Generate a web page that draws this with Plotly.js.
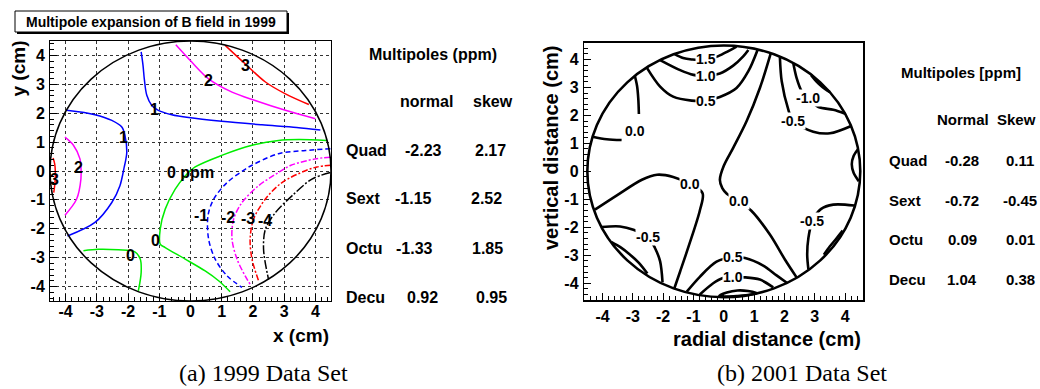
<!DOCTYPE html>
<html>
<head>
<meta charset="utf-8">
<script src="https://cdn.plot.ly/plotly-3.0.1.min.js"></script>
<style>html,body{margin:0;padding:0;background:#fff;}#chart{width:1040px;height:389px;}</style>
</head>
<body>
<div id="chart"></div>
<script>
// ---------------- DATA ----------------
// axis ticks
const tickVals = [-4, -3, -2, -1, 0, 1, 2, 3, 4];
const tickText = ['-4', '-3', '-2', '-1', '0', '1', '2', '3', '4'];
const circleRadius1999 = 4.5;
const circleRadius2001 = 4.5;

// 1999 contour lines (level, x, y)
const c99_p1a_x = [-1.58, -1.52, -1.48, -1.40, -1.24, -1.03, -0.60, -0.06, 1.00, 2.29, 3.40, 4.16];
const c99_p1a_y = [4.12, 3.65, 3.19, 2.62, 2.27, 2.10, 1.95, 1.85, 1.72, 1.60, 1.51, 1.42];
const c99_p1b_x = [-3.97, -3.06, -2.52, -2.20, -2.10, -2.04, -2.08, -2.12, -2.26, -2.52, -3.06, -3.94];
const c99_p1b_y = [2.10, 1.95, 1.75, 1.52, 1.23, 0.66, 0.35, 0.15, -0.51, -1.09, -1.78, -2.25];
const c99_p2a_x = [-0.47, 0.04, 0.58, 1.33, 2.07, 3.04, 4.00];
const c99_p2a_y = [4.37, 3.77, 3.19, 2.73, 2.44, 2.10, 1.81];
const c99_p2b_x = [-4.02, -3.75, -3.54, -3.51, -3.51, -3.65, -4.02];
const c99_p2b_y = [1.17, 0.89, 0.42, 0.18, -0.28, -0.98, -1.53];
const c99_p3a_x = [1.11, 1.75, 2.40, 3.04, 3.79];
const c99_p3a_y = [4.35, 3.71, 3.08, 2.67, 2.30];
const c99_p3b_x = [-4.40, -4.35, -4.33, -4.34, -4.38];
const c99_p3b_y = [0.45, 0.25, 0.00, -0.40, -0.75];
const c99_z0a_x = [4.37, 3.47, 2.82, 1.97, 1.00, 0.15, -0.17, -0.49, -0.81, -0.97, -0.97, -0.81, -0.17, 0.47, 0.90, 1.27];
const c99_z0a_y = [1.06, 1.09, 1.06, 0.89, 0.54, 0.14, -0.17, -0.63, -1.32, -2.01, -2.53, -2.65, -3.05, -3.46, -3.80, -4.18];
const c99_z0b_x = [-3.43, -2.95, -2.31, -1.78, -1.61, -1.58, -1.67];
const c99_z0b_y = [-2.76, -2.71, -2.73, -2.80, -3.05, -3.51, -4.15];
const c99_m1_x = [4.48, 3.68, 2.82, 1.97, 1.75, 1.17, 0.74, 0.56, 0.58, 0.79, 1.17, 1.65];
const c99_m1_y = [0.77, 0.71, 0.60, 0.20, 0.06, -0.40, -0.98, -1.55, -2.36, -3.05, -3.63, -4.03];
const c99_m2_x = [4.48, 4.00, 3.20, 2.82, 2.18, 1.65, 1.38, 1.33, 1.49, 1.75, 1.91];
const c99_m2_y = [0.48, 0.42, 0.19, -0.05, -0.51, -1.09, -1.67, -2.36, -3.05, -3.63, -3.92];
const c99_m3_x = [4.50, 4.05, 3.68, 2.93, 2.40, 2.02, 1.91, 1.97, 2.18];
const c99_m3_y = [0.20, 0.14, 0.01, -0.40, -0.97, -1.67, -2.36, -3.05, -3.80];
const c99_m4_x = [4.48, 3.89, 3.25, 2.72, 2.40, 2.34, 2.50];
const c99_m4_y = [-0.05, -0.28, -0.86, -1.44, -2.01, -2.71, -3.76];

const curves1999 = [
  [1, c99_p1a_x, c99_p1a_y], [1, c99_p1b_x, c99_p1b_y],
  [2, c99_p2a_x, c99_p2a_y], [2, c99_p2b_x, c99_p2b_y],
  [3, c99_p3a_x, c99_p3a_y], [3, c99_p3b_x, c99_p3b_y],
  [0, c99_z0a_x, c99_z0a_y], [0, c99_z0b_x, c99_z0b_y],
  [-1, c99_m1_x, c99_m1_y], [-2, c99_m2_x, c99_m2_y],
  [-3, c99_m3_x, c99_m3_y], [-4, c99_m4_x, c99_m4_y]
];

// 1999 contour labels
const lab99_text = ['1', '1', '2', '3', '2', '3', '0 ppm', '0', '0', '-1', '-2', '-3', '-4'];
const lab99_x = [-1.14, -2.15, 0.58, 1.77, -3.59, -4.36, 0.00, -1.13, -1.91, 0.34, 1.19, 1.85, 2.39];
const lab99_y = [2.14, 1.17, 3.15, 3.65, 0.12, -0.28, -0.05, -2.39, -2.94, -1.55, -1.62, -1.66, -1.73];

// 2001 contour lines
const c01_a_x = [-1.62, -1.34, -1.06, -0.60, -0.18, 0.15, 0.42];
const c01_a_y = [4.19, 4.05, 4.00, 3.98, 4.12, 4.30, 4.46];
const c01_b_x = [-2.10, -1.44, -1.00, -0.60, -0.13, 0.31, 0.64, 0.81];
const c01_b_y = [3.98, 3.62, 3.45, 3.41, 3.50, 3.78, 4.11, 4.34];
const c01_c_x = [-2.54, -2.10, -1.67, -1.06, -0.60, -0.13, 0.42, 0.81, 1.11];
const c01_c_y = [3.71, 3.03, 2.67, 2.53, 2.53, 2.66, 2.98, 3.58, 4.33];
const c01_d_x = [-2.93, -2.86, -2.82, -2.80];
const c01_d_y = [3.40, 3.05, 2.60, 2.05];
const c01_e_x = [-4.33, -3.86, -3.37];
const c01_e_y = [1.24, 1.15, 1.12];
const c01_f_x = [-4.25, -3.50, -2.70, -2.20, -1.67, -1.12, -0.70, -0.79, -1.15, -1.44, -1.63];
const c01_f_y = [-1.37, -0.84, -0.30, -0.12, -0.20, -0.45, -0.78, -1.40, -2.65, -3.58, -4.18];
const c01_g_x = [-4.03, -3.42, -2.98, -2.49, -2.27, -2.10, -2.02];
const c01_g_y = [-1.99, -1.97, -2.09, -2.36, -2.74, -3.22, -3.97];
const c01_h_x = [-3.70, -3.40, -3.09, -2.80, -2.52];
const c01_h_y = [-2.53, -2.72, -2.98, -3.27, -3.65];
const c01_i_x = [-1.22, -0.79, -0.24, 0.29, 0.70, 1.30, 1.74, 2.10];
const c01_i_y = [-4.30, -3.77, -3.23, -3.07, -3.10, -3.37, -3.72, -4.00];
const c01_j_x = [-0.79, -0.35, -0.05, 0.31, 0.70, 1.19, 1.63];
const c01_j_y = [-4.40, -4.00, -3.82, -3.79, -3.79, -3.87, -4.15];
const c01_k_x = [-0.15, 0.10, 0.45, 0.80, 1.10, 0.80, 0.45, 0.10, -0.15];
const c01_k_y = [-4.45, -4.33, -4.26, -4.28, -4.36, -4.42, -4.46, -4.48, -4.45];
const c01_l_x = [1.55, 1.19, 0.75, 0.31, 0.00, -0.13, -0.05, 0.10, 0.50, 0.90, 1.52, 2.02, 2.40];
const c01_l_y = [4.23, 2.98, 1.79, 0.84, 0.20, -0.30, -0.60, -0.80, -1.07, -1.40, -2.26, -3.16, -3.79];
const c01_m_x = [1.85, 1.91, 2.13, 2.29, 2.95, 3.50, 4.20];
const c01_m_y = [4.08, 3.22, 2.20, 1.79, 1.42, 1.36, 1.62];
const c01_n_x = [2.29, 2.40, 2.57, 2.79, 3.12, 3.61, 4.00];
const c01_n_y = [3.87, 3.34, 2.86, 2.61, 2.30, 2.20, 2.06];
const c01_o_x = [2.88, 3.05, 3.25, 3.50];
const c01_o_y = [3.44, 3.22, 3.02, 2.83];
const c01_p_x = [4.43, 4.28, 4.22, 4.28, 4.45];
const c01_p_y = [0.80, 0.55, 0.25, -0.05, -0.35];
const c01_q_x = [4.30, 3.61, 3.20, 2.92, 2.79, 2.75, 2.79];
const c01_q_y = [-1.22, -1.19, -1.35, -1.78, -2.38, -2.98, -3.50];
const c01_r_x = [3.92, 3.70, 3.50, 3.30];
const c01_r_y = [-2.12, -2.42, -2.68, -2.98];

const curves2001 = [
  [c01_a_x, c01_a_y], [c01_b_x, c01_b_y], [c01_c_x, c01_c_y], [c01_d_x, c01_d_y],
  [c01_e_x, c01_e_y], [c01_f_x, c01_f_y], [c01_g_x, c01_g_y], [c01_h_x, c01_h_y],
  [c01_i_x, c01_i_y], [c01_j_x, c01_j_y], [c01_k_x, c01_k_y], [c01_l_x, c01_l_y],
  [c01_m_x, c01_m_y], [c01_n_x, c01_n_y], [c01_o_x, c01_o_y], [c01_p_x, c01_p_y],
  [c01_q_x, c01_q_y], [c01_r_x, c01_r_y]
];

const lab01_text = ['1.5', '1.0', '0.5', '0.0', '0.0', '0.0', '-0.5', '0.5', '1.0', '-1.0', '-0.5', '-0.5'];
const lab01_x = [-0.60, -0.60, -0.60, -2.93, -1.12, 0.50, -2.49, 0.29, 0.31, 2.79, 2.29, 2.92];
const lab01_y = [4.00, 3.41, 2.53, 1.45, -0.45, -1.07, -2.36, -3.07, -3.79, 2.61, 1.79, -1.78];

// multipole tables
const multipoleNames = ['Quad', 'Sext', 'Octu', 'Decu'];
const normal1999 = ['-2.23', '-1.15', '-1.33', '0.92'];
const skew1999 = ['2.17', '2.52', '1.85', '0.95'];
const normal2001 = ['-0.28', '-0.72', '0.09', '1.04'];
const skew2001 = ['0.11', '-0.45', '0.01', '0.38'];

// ---------------- STYLE / LAYOUT ----------------
const W = 1040, H = 389;
const PX = v => v / W, PY = v => 1 - v / H;
const SANS = 'Liberation Sans, Arial, Helvetica, sans-serif';
const bold = (size, color) => ({family: SANS, size: size, weight: 700, color: color || 'black'});

const levelStyle = {
  '3': {color: '#ff0000', dash: 'solid'},
  '2': {color: '#ff00ff', dash: 'solid'},
  '1': {color: '#0000ff', dash: 'solid'},
  '0': {color: '#00ee00', dash: 'solid'},
  '-1': {color: '#0000ff', dash: '5px,3px'},
  '-2': {color: '#ff00ff', dash: '6px,2px,2px,2px'},
  '-3': {color: '#ff0000', dash: '6px,2px,2px,2px'},
  '-4': {color: '#000000', dash: '9px,2px,2px,2px'}
};

const traces = [];
curves1999.forEach(c => {
  const st = levelStyle[String(c[0])];
  traces.push({type: 'scatter', mode: 'lines', x: c[1], y: c[2], xaxis: 'x', yaxis: 'y',
    line: {color: st.color, dash: st.dash, width: 1.5, shape: 'spline', smoothing: 0.9},
    hoverinfo: 'skip', showlegend: false});
});
curves2001.forEach(c => {
  traces.push({type: 'scatter', mode: 'lines', x: c[0], y: c[1], xaxis: 'x2', yaxis: 'y2',
    line: {color: 'black', width: 2.6, shape: 'spline', smoothing: 0.9},
    hoverinfo: 'skip', showlegend: false});
});

function axisBase(domain, range, lw) {
  return {
    domain: domain, range: range, tickvals: tickVals, ticktext: tickText,
    ticks: 'inside', ticklen: 7, tickwidth: 1, tickcolor: 'black',
    showline: true, linecolor: 'black', linewidth: lw, mirror: true,
    zeroline: false, tickfont: bold(16), fixedrange: true,
    minor: {dtick: 0.2, tick0: 0, ticks: 'inside', ticklen: 4, tickcolor: 'black', tickwidth: 1, showgrid: false}
  };
}

const xaxis = Object.assign(axisBase([PX(50), PX(331)], [-4.5, 4.5], 1),
  {anchor: 'y', showgrid: true, gridcolor: '#333', griddash: 'dot', gridwidth: 1, ticklabelstandoff: -4});
const yaxis = Object.assign(axisBase([PY(301), PY(41)], [-4.5, 4.5], 1),
  {anchor: 'x', showgrid: true, gridcolor: '#333', griddash: 'dot', gridwidth: 1, ticklabelstandoff: 1});
const xaxis2 = Object.assign(axisBase([PX(584.3), PX(863.3)], [-4.6, 4.6], 1.5),
  {anchor: 'y2', showgrid: false, ticklabelstandoff: 1});
const yaxis2 = Object.assign(axisBase([PY(300), PY(42.7)], [-4.6, 4.6], 1.5),
  {anchor: 'x2', showgrid: false, ticklabelstandoff: 1});

const shapes = [
  {type: 'circle', xref: 'x', yref: 'y', x0: -circleRadius1999, x1: circleRadius1999,
   y0: -circleRadius1999, y1: circleRadius1999, line: {color: 'black', width: 1.5}, layer: 'above'},
  {type: 'circle', xref: 'x2', yref: 'y2', x0: -circleRadius2001, x1: circleRadius2001,
   y0: -circleRadius2001, y1: circleRadius2001, line: {color: 'black', width: 2.6}, layer: 'above'},
  // title box shadow + box
  {type: 'rect', xref: 'paper', yref: 'paper', x0: PX(17), x1: PX(289), y0: PY(34), y1: PY(13),
   fillcolor: 'black', line: {width: 0}},
  {type: 'rect', xref: 'paper', yref: 'paper', x0: PX(15), x1: PX(287), y0: PY(32), y1: PY(11),
   fillcolor: 'white', line: {color: 'black', width: 1}}
];

const ann = [];
function note(text, x, y, font, extra) {
  ann.push(Object.assign({text: text, x: PX(x), y: PY(y), xref: 'paper', yref: 'paper',
    showarrow: false, font: font, xanchor: 'center', yanchor: 'middle'}, extra || {}));
}
// title
note('Multipole expansion of B field in 1999', 151, 21.5, bold(14));
// axis titles
note('y (cm)', 18, 68.5, bold(19), {textangle: -90});
note('x (cm)', 331, 335, bold(19), {xanchor: 'right'});
note('vertical distance (cm)', 551, 148, bold(20), {textangle: -90});
note('radial distance (cm)', 863, 339, bold(20), {xanchor: 'right'});
// contour labels
lab99_text.forEach((t, i) => ann.push({text: t, x: lab99_x[i], y: lab99_y[i], xref: 'x', yref: 'y',
  showarrow: false, font: bold(16)}));
lab01_text.forEach((t, i) => ann.push({text: t, x: lab01_x[i], y: lab01_y[i], xref: 'x2', yref: 'y2',
  showarrow: false, font: bold(14), bgcolor: 'white', borderpad: 0}));
// table 1999
const rowY1999 = [150, 198, 248, 297];
const normX1999 = [423, 413, 414, 422];
const skewX1999 = [490, 486, 487, 491];
note('Multipoles (ppm)', 432.5, 55, bold(16));
note('normal', 426, 101, bold(16));
note('skew', 493, 101, bold(16));
multipoleNames.forEach((n, i) => {
  note(n, 343.5, rowY1999[i], bold(16), {xanchor: 'left'});
  note(normal1999[i], normX1999[i], rowY1999[i], bold(16));
  note(skew1999[i], skewX1999[i], rowY1999[i], bold(16));
});
// table 2001
const rowY2001 = [160, 200, 239, 279];
note('Multipoles [ppm]', 961, 73, bold(15));
note('Normal', 962.5, 120, bold(15));
note('Skew', 1016, 120, bold(15));
multipoleNames.forEach((n, i) => {
  note(n, 886.7, rowY2001[i], bold(15), {xanchor: 'left'});
  note(normal2001[i], 962, rowY2001[i], bold(15));
  note(skew2001[i], 1020, rowY2001[i], bold(15));
});
// captions
const SERIF = {family: 'Liberation Serif, DejaVu Serif, serif', size: 24, color: 'black'};
note('(a) 1999 Data Set', 263.5, 373, SERIF);
note('(b) 2001 Data Set', 802, 373, SERIF);

const layout = {
  width: W, height: H, margin: {l: 0, r: 0, t: 0, b: 0, pad: 0},
  paper_bgcolor: 'white', plot_bgcolor: 'white', showlegend: false,
  xaxis: xaxis, yaxis: yaxis, xaxis2: xaxis2, yaxis2: yaxis2,
  shapes: shapes, annotations: ann, font: {family: SANS}
};

Plotly.newPlot('chart', traces, layout, {displayModeBar: false, staticPlot: true});
</script>
</body>
</html>
